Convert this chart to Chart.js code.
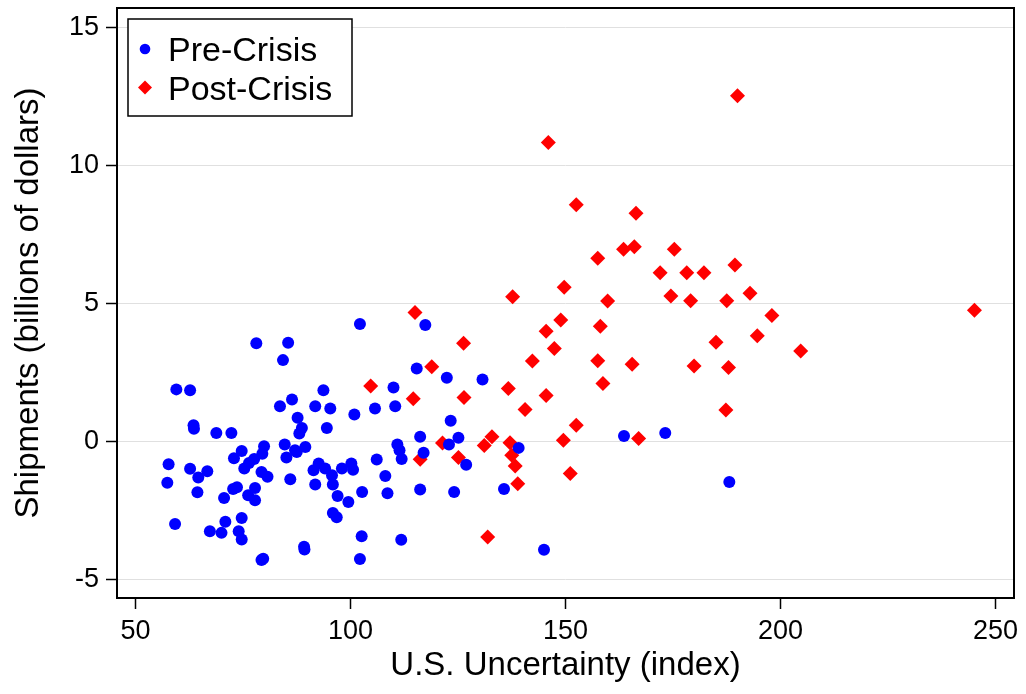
<!DOCTYPE html>
<html><head><meta charset="utf-8">
<script src="https://cdn.jsdelivr.net/npm/chart.js@4.4.1/dist/chart.umd.min.js"></script>
<style>html,body{margin:0;padding:0;background:#fff;overflow:hidden}#wrap{width:1026px;height:694px}</style>
</head><body><div id="wrap"><canvas id="c" width="1026" height="694"></canvas></div>
<script>
// ---- data ----
const seriesNames = ['Pre-Crisis', 'Post-Crisis'];
const preX = [78.1,85.5,84.3,59.5,62.7,86.4,83.6,63.5,63.6,68.8,72.3,
  84.7,87.1,85.1,86.0,79.9,79.5,74.7,72.9,77.6,76.4,75.3,79.3,80.7,
  57.7,57.4,62.7,64.6,66.7,64.4,70.6,72.7,73.6,76.2,77.8,77.8,
  59.2,67.3,70.0,70.9,74.7,74.0,74.7,79.3,79.7,
  102.2,117.4,115.4,122.4,110.0,93.7,91.8,95.3,100.9,105.7,110.4,123.3,
  87.7,88.7,88.1,94.5,89.5,87.5,91.8,92.6,91.4,94.1,95.7,95.9,97.0,98.0,
  100.2,100.6,99.5,102.7,95.9,96.8,89.2,89.3,102.6,102.2,111.8,106.1,108.1,
  108.6,110.9,111.4,111.9,116.2,117.0,122.9,116.2,124.1,
  130.7,125.1,126.9,139.1,135.7,145.0,163.6,173.2,188.1];
const preY = [3.55,3.57,2.94,1.88,1.85,1.51,1.27,0.58,0.45,0.30,0.30,
  -0.12,-0.33,-0.59,-1.38,-0.18,-0.45,-0.35,-0.62,-0.64,-0.79,-0.99,-1.11,-1.29,
  -0.83,-1.50,-1.00,-1.31,-1.09,-1.85,-2.06,-1.73,-1.67,-1.96,-1.69,-2.14,
  -3.00,-3.26,-3.32,-2.92,-2.78,-3.26,-3.56,-4.30,-4.26,
  4.25,4.21,2.64,2.30,1.95,1.85,1.27,1.19,0.97,1.19,1.27,0.74,
  0.85,0.48,0.28,0.48,-0.21,-0.39,-1.57,-0.81,-1.05,-0.99,-1.23,-1.57,-1.98,-0.99,
  -0.81,-1.03,-2.20,-1.84,-2.60,-2.75,-3.82,-3.92,-3.44,-4.27,-3.57,-0.66,-1.26,
  -1.88,-0.12,-0.33,-0.64,0.16,-0.42,-0.12,-1.75,-1.84,
  2.24,0.13,-0.85,-0.24,-1.73,-3.93,0.19,0.30,-1.48];
const postX = [115.0,118.9,104.7,114.6,116.2,121.4,126.3,145.5,148.9,147.4,142.3,
  136.7,145.5,140.6,126.4,152.5,125.1,132.9,131.1,137.1,137.5,138.3,138.9,149.5,
  151.1,131.9,146.0,152.5,166.4,157.5,163.5,166.0,175.3,172.0,178.2,149.7,159.8,
  174.5,179.1,158.1,157.5,165.5,179.9,158.7,167.0,190.0,182.2,189.4,187.5,192.9,
  198.0,194.6,185.0,204.7,187.9,187.3,245.1,137.7];
const postY = [4.67,2.70,2.00,1.54,-0.65,-0.06,3.55,3.99,4.39,3.36,2.91,
  1.91,1.66,1.15,1.59,0.58,-0.59,0.16,-0.15,-0.05,-0.51,-0.90,-1.54,0.04,
  -1.17,-3.47,10.83,8.57,8.26,6.63,6.96,7.05,6.96,6.11,6.11,5.58,5.08,
  5.26,5.09,4.17,2.92,2.79,2.73,2.09,0.10,12.52,6.11,6.39,5.09,5.36,
  4.56,3.82,3.59,3.27,2.67,1.13,4.75,5.24];
const xTicks = [50, 100, 150, 200, 250];
const yTicks = [-5, 0, 5, 10, 15];
const xTitle = 'U.S. Uncertainty (index)';
const yTitle = 'Shipments (billions of dollars)';

// ---- chart ----
const FONT = '"Liberation Sans", Arial, Helvetica, sans-serif';
const toPts = (xs, ys) => xs.map((x, i) => ({x: x, y: ys[i]}));

const frame = {
  id: 'frame',
  afterDatasetsDraw(chart) {
    const a = chart.chartArea, ctx = chart.ctx;
    ctx.save();
    ctx.strokeStyle = '#000'; ctx.lineWidth = 2;
    ctx.strokeRect(a.left, a.top, a.right - a.left, a.bottom - a.top);
    ctx.restore();
  }
};
const legendBox = {
  id: 'legendBox',
  afterDraw(chart) {
    const a = chart.chartArea, ctx = chart.ctx;
    const bx = a.left + 11, by = a.top + 11, bw = 224, bh = 97;
    ctx.save();
    ctx.fillStyle = '#fff'; ctx.fillRect(bx, by, bw, bh);
    ctx.strokeStyle = '#000'; ctx.lineWidth = 1.5; ctx.strokeRect(bx, by, bw, bh);
    chart.data.datasets.forEach((ds, i) => {
      const cy = by + 30 + i * 38.5;
      ctx.fillStyle = ds.backgroundColor; ctx.strokeStyle = ds.backgroundColor;
      Chart.helpers.drawPoint(ctx, {pointStyle: ds.pointStyle, radius: i ? 7 : 5.3, borderWidth: 0, rotation: 0}, bx + 17, cy);
      ctx.fillStyle = '#000';
      ctx.font = '34px ' + FONT;
      ctx.textBaseline = 'alphabetic';
      ctx.fillText(ds.label, bx + 40, cy + 12);
    });
    ctx.restore();
  }
};

new Chart(document.getElementById('c'), {
  type: 'scatter',
  data: {
    datasets: [
      {label: seriesNames[0], data: toPts(preX, preY), pointStyle: 'circle', pointRadius: 6, pointHoverRadius: 6,
       backgroundColor: '#0000ff', borderColor: '#0000ff', borderWidth: 0},
      {label: seriesNames[1], data: toPts(postX, postY), pointStyle: 'rectRot', pointRadius: 7.5, pointHoverRadius: 7.5,
       backgroundColor: '#ff0000', borderColor: '#ff0000', borderWidth: 0}
    ]
  },
  options: {
    responsive: false, animation: false, devicePixelRatio: 1,
    layout: {padding: {top: 8, right: 12, left: 0, bottom: 0}},
    plugins: {legend: {display: false}, tooltip: {enabled: false}},
    scales: {
      x: {
        type: 'linear', min: 45.7, max: 254.3,
        afterBuildTicks: s => { s.ticks = xTicks.map(v => ({value: v})); },
        afterFit: s => { s.height = 96; s.paddingLeft = 0; s.paddingRight = 0; },
        grid: {drawOnChartArea: false, drawTicks: true, tickLength: 11, tickColor: '#000', tickWidth: 1.5},
        border: {display: false},
        ticks: {color: '#000', font: {family: FONT, size: 27}, padding: 6, maxRotation: 0},
        title: {display: true, text: xTitle, color: '#000', font: {family: FONT, size: 33}, padding: {top: 0, bottom: 8}}
      },
      y: {
        type: 'linear', min: -5.68, max: 15.7,
        afterBuildTicks: s => { s.ticks = yTicks.map(v => ({value: v})); },
        afterFit: s => { s.width = 117; s.paddingTop = 0; s.paddingBottom = 0; },
        grid: {color: '#e0e0e0', lineWidth: 1, drawTicks: true, tickLength: 11, tickColor: '#000', tickWidth: 1.5},
        border: {display: false},
        ticks: {color: '#000', font: {family: FONT, size: 27}, padding: 7},
        title: {display: true, text: yTitle, color: '#000', font: {family: FONT, size: 33}, padding: {top: 9, bottom: 0}}
      }
    }
  },
  plugins: [frame, legendBox]
});
</script></body></html>
